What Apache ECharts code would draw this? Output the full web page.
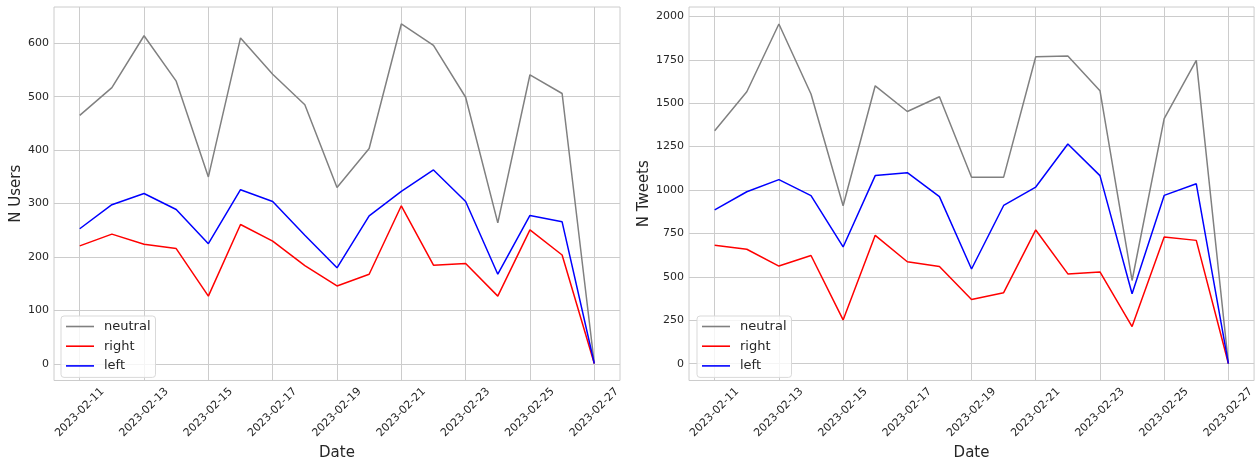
<!DOCTYPE html>
<html>
<head>
<meta charset="utf-8">
<script src="https://cdn.jsdelivr.net/npm/echarts@6/dist/echarts.min.js"></script>
<style>
  html, body { margin: 0; padding: 0; background: #ffffff; }
  #chart { width: 1257px; height: 466px; }
</style>
</head>
<body>
<div id="chart"></div>
<script>
// Daily activity by political leaning
const dates = ['2023-02-11', '2023-02-12', '2023-02-13', '2023-02-14', '2023-02-15', '2023-02-16',
  '2023-02-17', '2023-02-18', '2023-02-19', '2023-02-20', '2023-02-21', '2023-02-22',
  '2023-02-23', '2023-02-24', '2023-02-25', '2023-02-26', '2023-02-27'];

const usersNeutral = [465, 517, 614, 529, 350, 610, 542, 485, 330, 403, 636, 596, 499, 264, 541, 506, 1];
const usersRight   = [221, 243, 224, 216, 127, 261, 230, 184, 146, 168, 296, 185, 188, 127, 251, 204, 1];
const usersLeft    = [253, 298, 319, 289, 225, 326, 304, 241, 180, 277, 323, 363, 304, 168, 278, 266, 1];

const tweetsNeutral = [1341, 1566, 1956, 1553, 909, 1600, 1452, 1537, 1074, 1074, 1767, 1771, 1572, 479, 1411, 1746, 1];
const tweetsRight   = [682, 659, 562, 623, 252, 739, 587, 560, 369, 409, 770, 517, 528, 214, 729, 710, 1];
const tweetsLeft    = [886, 990, 1060, 968, 672, 1083, 1100, 962, 545, 911, 1017, 1265, 1083, 403, 969, 1036, 1];

const dateTicks = ['2023-02-11', '2023-02-13', '2023-02-15', '2023-02-17', '2023-02-19',
  '2023-02-21', '2023-02-23', '2023-02-25', '2023-02-27'];
const usersTicks = [0, 100, 200, 300, 400, 500, 600];
const tweetsTicks = [0, 250, 500, 750, 1000, 1250, 1500, 1750, 2000];

const seriesNames = ['neutral', 'right', 'left'];
const seriesColors = ['#808080', '#ff0000', '#0000ff'];

const ts = s => Date.parse(s + 'T00:00:00Z');
const pad2 = n => (n < 10 ? '0' : '') + n;
const fmtDate = v => {
  const d = new Date(v);
  return d.getUTCFullYear() + '-' + pad2(d.getUTCMonth() + 1) + '-' + pad2(d.getUTCDate());
};

const FONT = 'DejaVu Sans';
const TEXT = '#262626';
const GRIDC = '#cccccc';

// 5% padding around the data range
function padded(values) {
  const lo = Math.min(...values), hi = Math.max(...values);
  const m = (hi - lo) * 0.05;
  return [lo - m, hi + m];
}

const tMin = ts(dates[0]), tMax = ts(dates[dates.length - 1]);
const xPad = (tMax - tMin) * 0.05;

function xAxis(gridIndex) {
  const ticks = dateTicks.map(ts);
  return {
    type: 'value', gridIndex,
    min: tMin - xPad, max: tMax + xPad,
    name: 'Date', nameLocation: 'middle', nameGap: 60,
    nameTextStyle: { fontFamily: FONT, fontSize: 15, color: TEXT },
    axisLine: { show: false },
    axisTick: { show: false, customValues: ticks },
    axisLabel: {
      customValues: ticks, formatter: fmtDate, rotate: 45,
      align: 'center', verticalAlign: 'middle', margin: 32,
      fontFamily: FONT, fontSize: 11, color: TEXT
    },
    splitLine: { show: true, lineStyle: { color: GRIDC, width: 1 } }
  };
}

function yAxis(gridIndex, name, allValues, ticks) {
  const [lo, hi] = padded(allValues);
  return {
    type: 'value', gridIndex, min: lo, max: hi,
    name, nameLocation: 'middle', nameGap: gridIndex === 0 ? 30 : 35,
    nameTextStyle: { fontFamily: FONT, fontSize: 15, color: TEXT },
    axisLine: { show: false },
    axisTick: { show: false, customValues: ticks },
    axisLabel: {
      customValues: ticks, formatter: v => String(v), margin: 5,
      fontFamily: FONT, fontSize: 11, color: TEXT
    },
    splitLine: { show: true, lineStyle: { color: GRIDC, width: 1 } }
  };
}

function lineSeries(name, color, values, idx) {
  return {
    type: 'line', name, xAxisIndex: idx, yAxisIndex: idx,
    data: values.map((v, i) => [ts(dates[i]), v]),
    symbol: 'none', lineStyle: { color, width: 1.5 }, itemStyle: { color },
    emphasis: { disabled: true }, animation: false
  };
}

function legend(left) {
  return {
    orient: 'vertical', left, top: 316,
    data: seriesNames,
    icon: 'rect',
    itemWidth: 28, itemHeight: 1.6, itemGap: 4.7,
    padding: [3, 5, 4, 5],
    backgroundColor: 'rgba(255,255,255,0.8)',
    borderColor: '#d9d9d9', borderWidth: 1, borderRadius: 3,
    textStyle: { fontFamily: FONT, fontSize: 13, color: TEXT, padding: [0, 0, 0, 5], lineHeight: 15 },
    selectedMode: false
  };
}

const chart = echarts.init(document.getElementById('chart'), null, { renderer: 'canvas' });
chart.setOption({
  backgroundColor: '#ffffff',
  animation: false,
  grid: [
    { left: 54, top: 7, width: 566, height: 378, show: true, borderColor: GRIDC, borderWidth: 1, backgroundColor: '#ffffff' },
    { left: 689, top: 7, width: 567, height: 378, show: true, borderColor: GRIDC, borderWidth: 1, backgroundColor: '#ffffff' }
  ],
  legend: [legend(61), legend(697)],
  xAxis: [xAxis(0), xAxis(1)],
  yAxis: [
    yAxis(0, 'N Users', [...usersNeutral, ...usersRight, ...usersLeft], usersTicks),
    yAxis(1, 'N Tweets', [...tweetsNeutral, ...tweetsRight, ...tweetsLeft], tweetsTicks)
  ],
  series: [
    lineSeries(seriesNames[0], seriesColors[0], usersNeutral, 0),
    lineSeries(seriesNames[1], seriesColors[1], usersRight, 0),
    lineSeries(seriesNames[2], seriesColors[2], usersLeft, 0),
    lineSeries(seriesNames[0], seriesColors[0], tweetsNeutral, 1),
    lineSeries(seriesNames[1], seriesColors[1], tweetsRight, 1),
    lineSeries(seriesNames[2], seriesColors[2], tweetsLeft, 1)
  ]
});
</script>
</body>
</html>
